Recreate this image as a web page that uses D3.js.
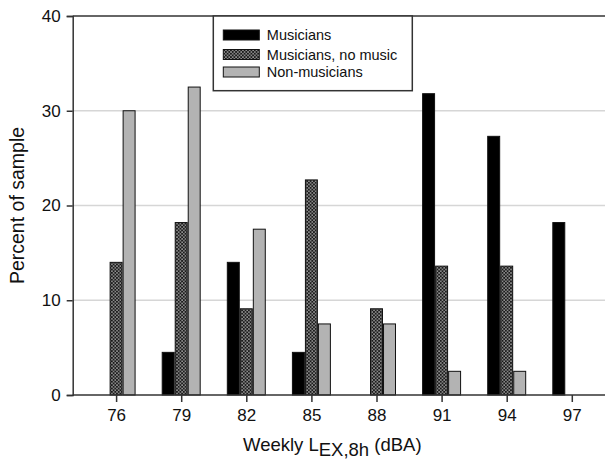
<!DOCTYPE html>
<html>
<head>
<meta charset="utf-8">
<script src="https://cdn.jsdelivr.net/npm/d3@7"></script>
<style>
  body { margin: 0; background: #fff; }
  text { font-family: "Liberation Sans", Arial, sans-serif; fill: #111; }
</style>
</head>
<body>
<svg id="chart" width="605" height="460"></svg>
<script>
    // data
    var levels = [76, 79, 82, 85, 88, 91, 94, 97];
    var musicians = [0, 4.5, 14, 4.5, 0, 31.8, 27.3, 18.2];
    var musiciansNoMusic = [14, 18.2, 9.1, 22.7, 9.1, 13.6, 13.6, 0];
    var nonMusicians = [30, 32.5, 17.5, 7.5, 7.5, 2.5, 2.5, 0];
    var seriesNames = ["Musicians", "Musicians, no music", "Non-musicians"];
    var yTicks = [0, 10, 20, 30, 40];
    var gridTicks = [10, 20, 30];

    var svg = d3.select("#chart"),
        margin = {left: 72.7, top: 16, bottom: 65},
        height = +svg.attr("height") - margin.top - margin.bottom;

    // linear x so the plot runs on past the right edge like the original
    var x = d3.scaleLinear().domain([74, 99]).range([margin.left, margin.left + 25 * 21.7]);
    var y = d3.scaleLinear().domain([0, 40]).range([margin.top + height, margin.top]);
    var rightEdge = 605;

    var groupW = x(74 + 1.75) - x(74);
    var inner = d3.scaleBand().domain(seriesNames).range([-groupW / 2, groupW / 2]).paddingInner(0.08);

    var table = levels.map((l, i) => ({level: l, values: [musicians[i], musiciansNoMusic[i], nonMusicians[i]]}));

    // checker pattern for the "no music" bars
    var defs = svg.append("defs");
    var pat = defs.append("pattern")
        .attr("id", "checker")
        .attr("patternUnits", "userSpaceOnUse")
        .attr("width", 3.4).attr("height", 3.4);
    pat.append("rect").attr("width", 3.4).attr("height", 3.4).attr("fill", "#1a1a1a");
    pat.append("rect").attr("x", 0.3).attr("y", 0.3).attr("width", 1.2).attr("height", 1.2).attr("fill", "#eee");
    pat.append("rect").attr("x", 2.0).attr("y", 2.0).attr("width", 1.2).attr("height", 1.2).attr("fill", "#eee");

    var fills = ["#000", "url(#checker)", "#b3b3b3"];

    // grid lines
    svg.append("g").selectAll("line")
        .data(gridTicks)
        .enter().append("line")
        .attr("x1", margin.left).attr("x2", rightEdge)
        .attr("y1", d => y(d)).attr("y2", d => y(d))
        .attr("stroke", "#d6d6d6").attr("stroke-width", 1.5);

    // bars
    var groups = svg.append("g").selectAll("g")
        .data(table)
        .enter().append("g")
        .attr("transform", d => "translate(" + x(d.level) + ",0)");

    groups.selectAll("rect")
        .data(d => d.values.map((v, j) => ({v: v, name: seriesNames[j], j: j})).filter(e => e.v > 0))
        .enter().append("rect")
        .attr("x", d => inner(d.name))
        .attr("width", inner.bandwidth())
        .attr("y", d => y(d.v))
        .attr("height", d => y(0) - y(d.v))
        .attr("fill", d => fills[d.j])
        .attr("stroke", "#111")
        .attr("stroke-width", 1);

    // y axis
    var yAxis = svg.append("g")
        .attr("transform", "translate(" + margin.left + ",0)")
        .call(d3.axisLeft(y).tickValues(yTicks).tickSize(6).tickPadding(6));
    yAxis.select(".domain").attr("stroke", "#333").attr("stroke-width", 1.5);
    yAxis.selectAll(".tick line").attr("stroke", "#333").attr("stroke-width", 1.5);
    yAxis.selectAll("text").attr("font-size", "17px").attr("fill", "#111")
        .attr("font-family", "Liberation Sans, Arial, sans-serif");

    // x axis
    var xAxis = svg.append("g")
        .attr("transform", "translate(0," + y(0) + ")")
        .call(d3.axisBottom(x).tickValues(levels).tickSize(7).tickPadding(7).tickSizeOuter(0));
    xAxis.select(".domain").attr("d", "M" + margin.left + ",0H" + rightEdge)
        .attr("stroke", "#333").attr("stroke-width", 1.5);
    xAxis.selectAll(".tick line").attr("stroke", "#333").attr("stroke-width", 1.5);
    xAxis.selectAll("text").attr("font-size", "17px").attr("fill", "#111")
        .attr("font-family", "Liberation Sans, Arial, sans-serif");

    // top frame line
    svg.append("line")
        .attr("x1", margin.left).attr("x2", rightEdge)
        .attr("y1", y(40)).attr("y2", y(40))
        .attr("stroke", "#333").attr("stroke-width", 1.5);

    // axis titles
    svg.append("text")
        .attr("transform", "translate(24," + (margin.top + height / 2) + ") rotate(-90)")
        .attr("text-anchor", "middle")
        .attr("font-size", "19.5px")
        .text("Percent of sample");

    var xt = svg.append("text")
        .attr("x", 243)
        .attr("y", 451)
        .attr("font-size", "18.5px");
    xt.append("tspan").text("Weekly L");
    xt.append("tspan").attr("dy", 5).text("EX,8h");
    xt.append("tspan").attr("dy", -5).text(" (dBA)");

    // legend
    var legend = svg.append("g");
    legend.append("rect")
        .attr("x", 213.3).attr("y", y(40))
        .attr("width", 199).attr("height", 74.7)
        .attr("fill", "#fff").attr("stroke", "#333").attr("stroke-width", 1.5);

    var legY = [35, 54.5, 72];
    var items = legend.selectAll("g.item")
        .data(seriesNames)
        .enter().append("g")
        .attr("class", "item")
        .attr("transform", (d, i) => "translate(223.3," + legY[i] + ")");
    items.append("rect")
        .attr("x", 0).attr("y", -5)
        .attr("width", 36).attr("height", 10)
        .attr("fill", (d, i) => fills[i])
        .attr("stroke", "#111").attr("stroke-width", 1);
    items.append("text")
        .attr("x", 43.5).attr("y", 0)
        .attr("dy", "0.36em")
        .attr("font-size", "14.5px")
        .text(d => d);
</script>
</body>
</html>
